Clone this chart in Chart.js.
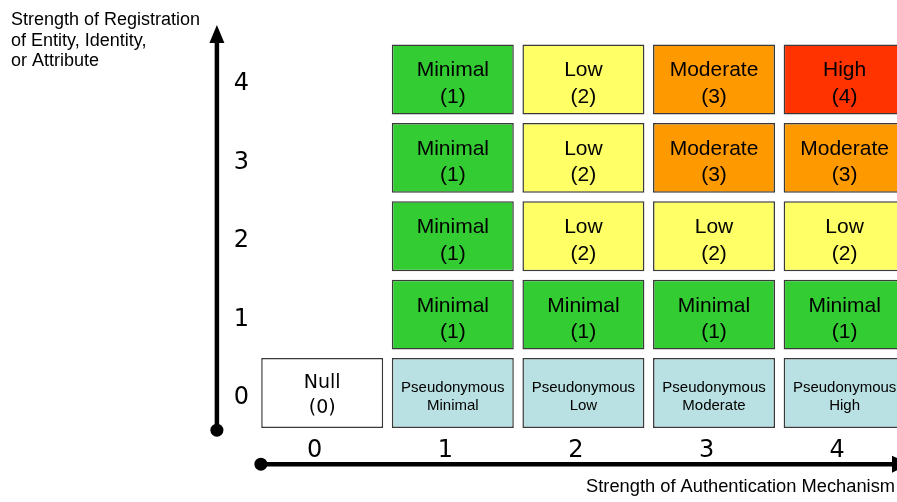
<!DOCTYPE html>
<html>
<head>
<meta charset="utf-8">
<script src="https://cdn.jsdelivr.net/npm/chart.js@4.4.0/dist/chart.umd.min.js"></script>
<style>
  html, body { margin: 0; padding: 0; background: #ffffff; }
  #wrap { width: 897px; height: 502px; position: relative; }
</style>
</head>
<body>
<div id="wrap"><canvas id="c"></canvas></div>
<script>
// ---- Data ----
const xTickLabels = ['0', '1', '2', '3', '4'];
const yTickLabels = ['0', '1', '2', '3', '4'];
const levelNames = ['Null', 'Minimal', 'Low', 'Moderate', 'High'];
// Row 0: columns 0..4 (column 0 = Null, others pseudonymous)
const row0Cols = [0, 1, 2, 3, 4];
const row0Levels = [0, 1, 2, 3, 4];
// Rows 1..4: columns 1..4, assurance level of each cell
const rowCols = [1, 2, 3, 4];
const row1Levels = [1, 1, 1, 1];
const row2Levels = [1, 2, 2, 2];
const row3Levels = [1, 2, 3, 3];
const row4Levels = [1, 2, 3, 4];
const yAxisTitle = ['Strength of Registration', 'of Entity, Identity,', 'or Attribute'];
const xAxisTitle = 'Strength of Authentication Mechanism';

// ---- Styles ----
const levelColors = ['#ffffff', '#33cc33', '#ffff66', '#ff9900', '#ff3300'];
const pseudoColor = '#b9e0e2';
const HALF = 0.446; // half cell height in row units

function makeDataset(row, cols, levels, pseudo) {
  return {
    data: cols.map(c => ({ x: c, y: [row - HALF, row + HALF] })),
    levels: levels,
    pseudo: pseudo,
    backgroundColor: levels.map(l => (pseudo && l > 0) ? pseudoColor : levelColors[l]),
    borderColor: '#3a3a3a',
    borderWidth: 1.5,
    borderSkipped: false,
    grouped: false,
    categoryPercentage: 1,
    barPercentage: 0.934
  };
}

const datasets = [
  makeDataset(0, row0Cols, row0Levels, true),
  makeDataset(1, rowCols, row1Levels, false),
  makeDataset(2, rowCols, row2Levels, false),
  makeDataset(3, rowCols, row3Levels, false),
  makeDataset(4, rowCols, row4Levels, false)
];

const cellTextPlugin = {
  id: 'cellText',
  afterDatasetsDraw(chart) {
    const ctx = chart.ctx;
    ctx.save();
    ctx.fillStyle = '#000';
    ctx.textAlign = 'center';
    ctx.textBaseline = 'alphabetic';
    chart.data.datasets.forEach((ds, di) => {
      const meta = chart.getDatasetMeta(di);
      meta.data.forEach((el, i) => {
        const p = el.getCenterPoint();
        const lvl = ds.levels[i];
        const name = levelNames[lvl];
        if (ds.pseudo && lvl > 0) {
          ctx.font = '15px "Liberation Sans", Arial, sans-serif';
          ctx.fillText('Pseudonymous', p.x, p.y - 1.5);
          ctx.fillText(name, p.x, p.y + 17);
        } else if (lvl === 0) {
          ctx.font = '19px "DejaVu Sans", sans-serif';
          ctx.fillText(name, p.x, p.y - 5.5);
          ctx.fillText('(' + lvl + ')', p.x, p.y + 19.5);
        } else {
          ctx.font = '21px "Liberation Sans", Arial, sans-serif';
          ctx.fillText(name, p.x, p.y - 3);
          ctx.fillText('(' + lvl + ')', p.x, p.y + 23.5);
        }
      });
    });
    ctx.restore();
  }
};

const axesPlugin = {
  id: 'arrowAxes',
  afterDraw(chart) {
    const ctx = chart.ctx;
    const xs = chart.scales.x, ys = chart.scales.y;
    const area = chart.chartArea;
    ctx.save();
    ctx.fillStyle = '#000';
    ctx.strokeStyle = '#000';
    ctx.lineWidth = 4.5;
    // vertical axis
    const vx = area.left - 40;
    const vBottom = area.bottom - 2;
    ctx.beginPath();
    ctx.moveTo(vx, vBottom);
    ctx.lineTo(vx, 40);
    ctx.stroke();
    ctx.beginPath();
    ctx.moveTo(vx, 25);
    ctx.lineTo(vx - 7.5, 43);
    ctx.lineTo(vx + 7.5, 43);
    ctx.closePath();
    ctx.fill();
    ctx.beginPath();
    ctx.arc(vx, vBottom, 6.5, 0, Math.PI * 2);
    ctx.fill();
    // horizontal axis
    const hy = area.bottom + 32;
    const hLeft = area.left + 4;
    ctx.beginPath();
    ctx.moveTo(hLeft, hy);
    ctx.lineTo(area.right - 4, hy);
    ctx.stroke();
    ctx.beginPath();
    ctx.moveTo(area.right + 13, hy);
    ctx.lineTo(area.right - 5, hy - 8.5);
    ctx.lineTo(area.right - 5, hy + 8.5);
    ctx.closePath();
    ctx.fill();
    ctx.beginPath();
    ctx.arc(hLeft, hy, 6.5, 0, Math.PI * 2);
    ctx.fill();

    // tick labels
    ctx.font = '24px "DejaVu Sans", sans-serif';
    ctx.textAlign = 'center';
    ctx.textBaseline = 'alphabetic';
    yTickLabels.forEach((t, i) => {
      ctx.fillText(t, area.left - 15.5, ys.getPixelForValue(i) + 11);
    });
    xTickLabels.forEach((t, i) => {
      ctx.fillText(t, xs.getPixelForValue(i) - 7.5, area.bottom + 24.5);
    });

    // axis titles
    ctx.font = '18px "Liberation Sans", Arial, sans-serif';
    ctx.textAlign = 'left';
    yAxisTitle.forEach((line, i) => {
      ctx.fillText(line, 11, 25 + i * 20.7);
    });
    ctx.font = '18.3px "Liberation Sans", Arial, sans-serif';
    ctx.textAlign = 'right';
    ctx.fillText(xAxisTitle, 895, 492);
    ctx.restore();
  }
};

new Chart(document.getElementById('c'), {
  type: 'bar',
  data: { datasets: datasets },
  options: {
    responsive: true,
    maintainAspectRatio: false,
    animation: false,
    layout: { padding: { left: 256.9, right: 0, top: 40.3, bottom: 69.8 } },
    plugins: { legend: { display: false }, tooltip: { enabled: false } },
    scales: {
      x: {
        type: 'linear', min: -0.5, max: 4.401, offset: false, display: false,
        grid: { display: false },
        afterBuildTicks: (s) => { s.ticks = xTickLabels.map((_, i) => ({ value: i })); }
      },
      y: { type: 'linear', min: -0.5, max: 4.5, display: false, grid: { display: false } }
    }
  },
  plugins: [cellTextPlugin, axesPlugin]
});
</script>
</body>
</html>
